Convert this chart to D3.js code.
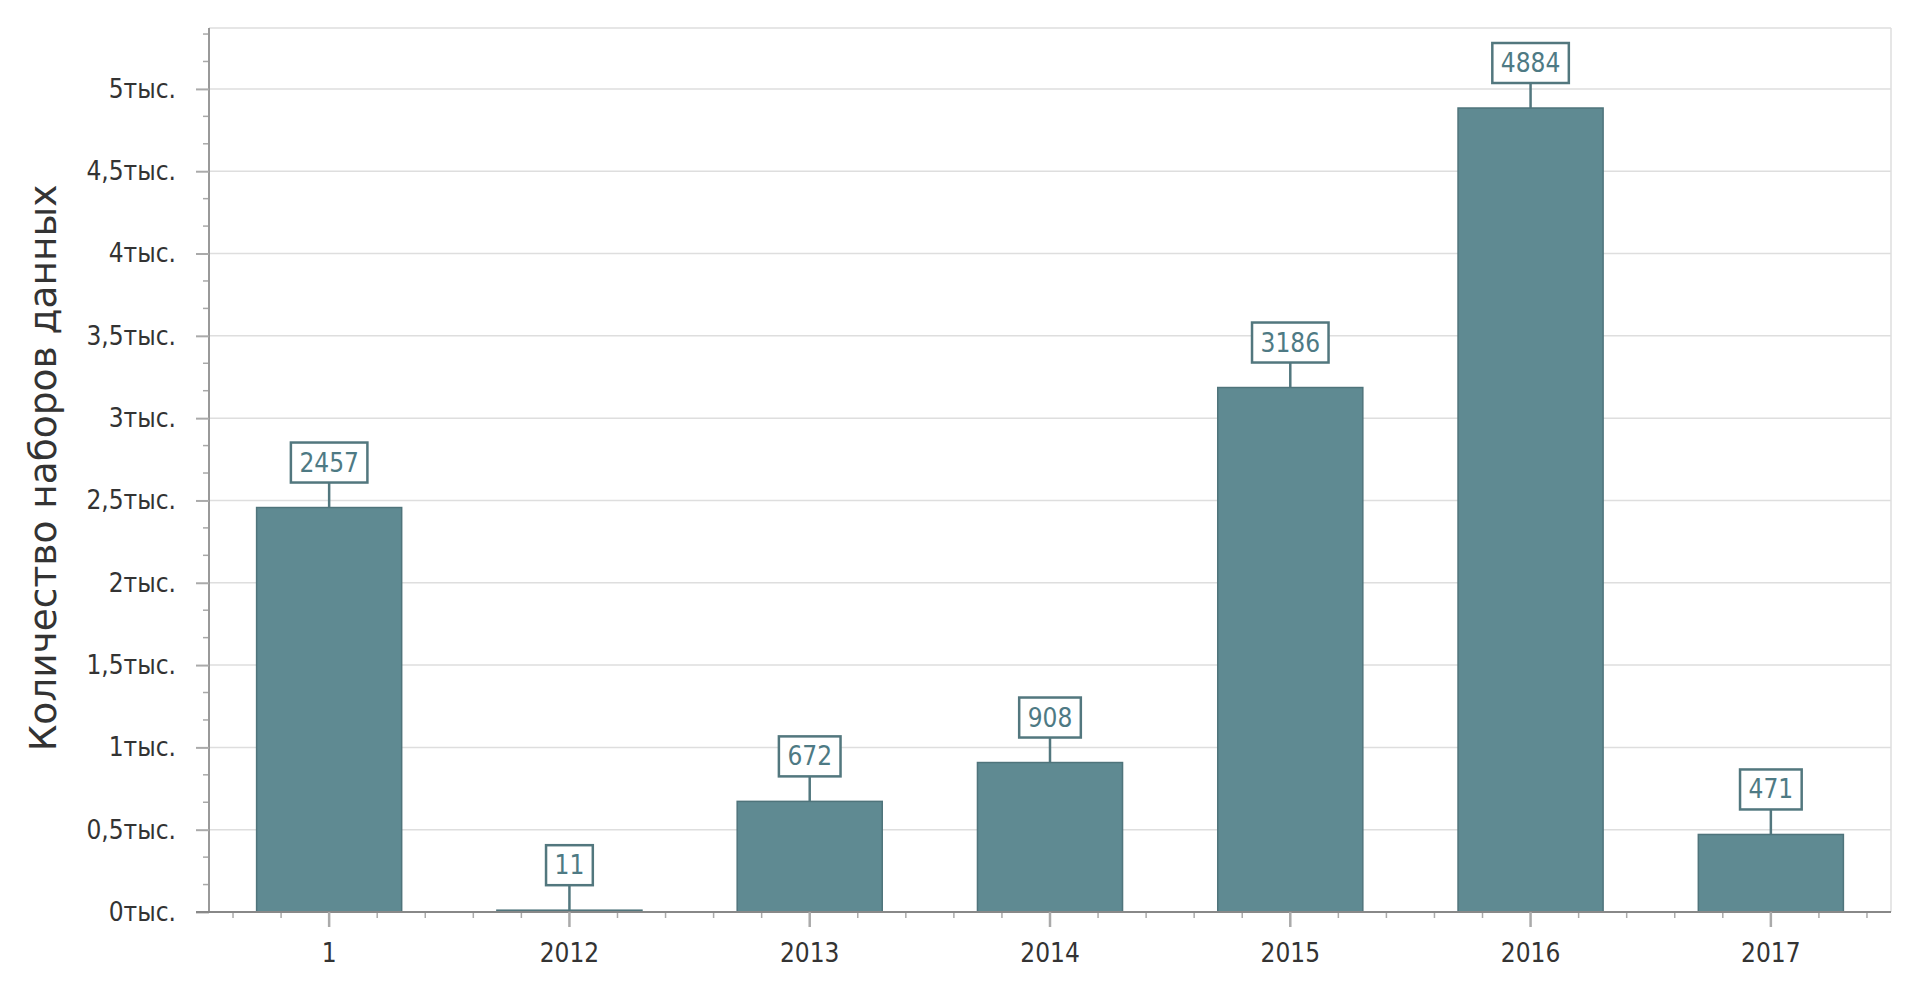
<!DOCTYPE html>
<html><head><meta charset="utf-8">
<script src="https://cdn.jsdelivr.net/npm/d3@7/dist/d3.min.js"></script>
<style>
body{margin:0;background:#fff;}
svg{display:block;}
text{font-family:"DejaVu Sans",Verdana,sans-serif;font-stretch:condensed;}
</style></head><body>
<svg id="c" width="1920" height="988"></svg>
<script>
const categories = ["1","2012","2013","2014","2015","2016","2017"];
const values = [2457, 11, 672, 908, 3186, 4884, 471];
const yTicks = [0,500,1000,1500,2000,2500,3000,3500,4000,4500,5000];
const yTickLabels = ["0тыс.","0,5тыс.","1тыс.","1,5тыс.","2тыс.","2,5тыс.","3тыс.","3,5тыс.","4тыс.","4,5тыс.","5тыс."];
const yMax = 5370;
const yTitle = "Количество наборов данных";

const svg = d3.select("#c");
const L = 209, R = 1891, T = 28, B = 912;
const x = d3.scaleBand().domain(categories).range([L, R]).paddingInner(0.39).paddingOuter(0.195);
const y = d3.scaleLinear().domain([0, yMax]).range([B, T]);

// gridlines
svg.append("g").selectAll("line").data(yTicks.filter(d=>d>0)).join("line")
  .attr("x1", L).attr("x2", R).attr("y1", d=>y(d)).attr("y2", d=>y(d))
  .attr("stroke", "#dedede").attr("stroke-width", 1.5);
// top and right border
svg.append("line").attr("x1", L).attr("x2", R).attr("y1", T).attr("y2", T).attr("stroke", "#dedede").attr("stroke-width", 1.5);
svg.append("line").attr("x1", R).attr("x2", R).attr("y1", T).attr("y2", B).attr("stroke", "#dedede").attr("stroke-width", 1.5);

// y minor ticks
const minorY = [];
for (let v = 500/3; v < yMax; v += 500/3) { if (Math.abs(v/500 - Math.round(v/500)) > 0.01) minorY.push(v); }
svg.append("g").selectAll("line").data(minorY).join("line")
  .attr("x1", L-6).attr("x2", L).attr("y1", d=>y(d)).attr("y2", d=>y(d))
  .attr("stroke", "#a8a8a8").attr("stroke-width", 1.5);

// y axis
const yAxis = d3.axisLeft(y).tickValues(yTicks).tickFormat((d,i)=>yTickLabels[i]).tickSize(13).tickPadding(20).tickSizeOuter(0);
const gy = svg.append("g").attr("transform", `translate(${L},0)`).call(yAxis);
gy.select(".domain").attr("stroke", "#999").attr("stroke-width", 2).attr("d", `M0,${T}V${B}`);
gy.selectAll(".tick line").attr("stroke", "#aaa").attr("stroke-width", 2);
gy.selectAll(".tick text").attr("fill", "#333").attr("font-size", 26).style("font-family", "\"DejaVu Sans\",sans-serif").style("font-stretch","condensed");

// x minor ticks
const step = x.step();
const minorX = [];
categories.forEach(c => { const cx = x(c) + x.bandwidth()/2; [-2,-1,1,2].forEach(k => minorX.push(cx + k*step/5)); });
svg.append("g").selectAll("line").data(minorX).join("line")
  .attr("x1", d=>d).attr("x2", d=>d).attr("y1", B).attr("y2", B+6)
  .attr("stroke", "#aaa").attr("stroke-width", 1.5);

// bars
svg.append("g").selectAll("rect").data(values).join("rect")
  .attr("x", (d,i)=>x(categories[i])+0.75).attr("width", x.bandwidth()-1.5)
  .attr("y", d=>y(d)).attr("height", d=>B - y(d))
  .attr("fill", "#5f8a92").attr("stroke", "#4f747b").attr("stroke-width", 1.5);

// x axis
const xAxis = d3.axisBottom(x).tickSize(15).tickPadding(17).tickSizeOuter(0);
const gx = svg.append("g").attr("transform", `translate(0,${B})`).call(xAxis);
gx.select(".domain").attr("stroke", "#888").attr("stroke-width", 2).attr("d", `M${L-13},0H${R}`);
gx.selectAll(".tick line").attr("stroke", "#aaa").attr("stroke-width", 2.5);
gx.selectAll(".tick text").attr("fill", "#333").attr("font-size", 26);

// labels
const lg = svg.append("g");
values.forEach((v,i) => {
  const cx = x(categories[i]) + x.bandwidth()/2;
  const top = y(v);
  const boxH = 40, gap = 25;
  const by = top - gap - boxH;
  const t = lg.append("text").attr("x", cx).attr("y", by + 29).attr("text-anchor","middle")
    .attr("font-size", 26).attr("fill", "#4e7a84").text(v);
  const w = t.node().getComputedTextLength() + 17;
  lg.insert("rect", "text").attr("x", cx - w/2).attr("y", by).attr("width", w).attr("height", boxH)
    .attr("fill", "#fff").attr("stroke", "#52777e").attr("stroke-width", 2.5);
  lg.insert("line", "text").attr("x1", cx).attr("x2", cx).attr("y1", by + boxH).attr("y2", top)
    .attr("stroke", "#52777e").attr("stroke-width", 2.5);
});

// y title
svg.append("text").attr("transform", `translate(56,468) rotate(-90)`)
  .attr("text-anchor","middle").attr("font-size", 37.5).attr("fill","#333")
  .style("font-stretch","normal").text(yTitle);
</script></body></html>
